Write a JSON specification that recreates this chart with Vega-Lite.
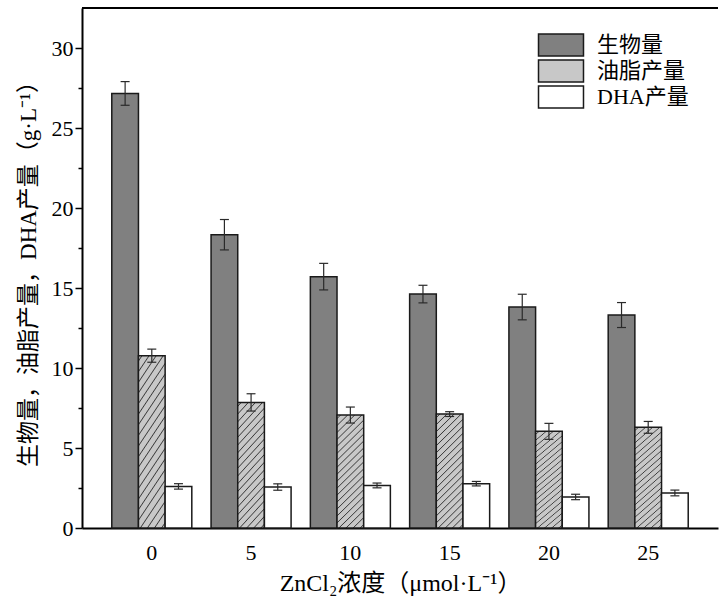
{
  "$schema": "https://vega.github.io/schema/vega-lite/v6.json",
  "width": 636,
  "height": 520,
  "autosize": "none",
  "padding": {"left": 82, "top": 8, "right": 2, "bottom": 71},
  "background": "white",
  "config": {
    "view": {"stroke": null},
    "font": "Liberation Serif, Noto Sans CJK SC",
    "axis": {
      "labelFont": "Liberation Serif, Noto Sans CJK SC",
      "titleFont": "Liberation Serif, Noto Sans CJK SC",
      "labelFontSize": 22,
      "titleFontSize": 23,
      "titleFontWeight": "normal",
      "labelColor": "black",
      "titleColor": "black",
      "domainColor": "black",
      "domainWidth": 2,
      "tickColor": "black",
      "tickWidth": 1.5,
      "grid": false
    },
    "legend": {
      "labelFont": "Liberation Serif, Noto Sans CJK SC",
      "labelFontSize": 22,
      "labelColor": "black"
    }
  },
  "datasets": {
    "main": [
      {"conc": "0", "series": "生物量", "value": 27.16, "sd": 0.74},
      {"conc": "0", "series": "油脂产量", "value": 10.77, "sd": 0.41},
      {"conc": "0", "series": "DHA产量", "value": 2.6, "sd": 0.17},
      {"conc": "5", "series": "生物量", "value": 18.33, "sd": 0.95},
      {"conc": "5", "series": "油脂产量", "value": 7.85, "sd": 0.54},
      {"conc": "5", "series": "DHA产量", "value": 2.56, "sd": 0.2},
      {"conc": "10", "series": "生物量", "value": 15.71, "sd": 0.83},
      {"conc": "10", "series": "油脂产量", "value": 7.06, "sd": 0.5},
      {"conc": "10", "series": "DHA产量", "value": 2.66, "sd": 0.15},
      {"conc": "15", "series": "生物量", "value": 14.62, "sd": 0.55},
      {"conc": "15", "series": "油脂产量", "value": 7.12, "sd": 0.15},
      {"conc": "15", "series": "DHA产量", "value": 2.77, "sd": 0.14},
      {"conc": "20", "series": "生物量", "value": 13.81, "sd": 0.8},
      {"conc": "20", "series": "油脂产量", "value": 6.04, "sd": 0.5},
      {"conc": "20", "series": "DHA产量", "value": 1.94, "sd": 0.17},
      {"conc": "25", "series": "生物量", "value": 13.31, "sd": 0.78},
      {"conc": "25", "series": "油脂产量", "value": 6.29, "sd": 0.37},
      {"conc": "25", "series": "DHA产量", "value": 2.19, "sd": 0.18}
    ]
  },
  "layer": [
    {
      "data": {"name": "main"},
      "mark": {"type": "bar", "strokeWidth": 1.5, "opacity": 1},
      "encoding": {
        "x": {
          "field": "conc", "type": "ordinal", "sort": ["0", "5", "10", "15", "20", "25"],
          "scale": {"paddingInner": 0.194, "paddingOuter": 0.3},
          "axis": {
            "title": "ZnCl₂浓度（μmol·L⁻¹）",
            "titleFontSize": 24,
            "labelAngle": 0,
            "ticks": false,
            "tickSize": 0,
            "labelPadding": 14,
            "titleY": 43,
            "titleBaseline": "top"
          }
        },
        "xOffset": {
          "field": "series", "type": "nominal", "sort": ["生物量", "油脂产量", "DHA产量"],
          "scale": {"paddingInner": 0, "paddingOuter": 0}
        },
        "y": {
          "field": "value", "type": "quantitative",
          "scale": {"domain": [0, 32.5], "nice": false, "zero": true},
          "axis": {
            "title": "生物量，油脂产量，DHA产量（g·L⁻¹）",
            "values": [0, 2.5, 5, 7.5, 10, 12.5, 15, 17.5, 20, 22.5, 25, 27.5, 30],
            "labelExpr": "datum.value % 5 === 0 ? datum.label : ''",
            "tickSize": {"condition": {"test": "datum.value % 5 === 0", "value": 7}, "value": 4},
            "labelPadding": 2,
            "titleAngle": -90,
            "titleX": -47,
            "titleY": 260,
            "titleAlign": "center",
            "titleBaseline": "alphabetic"
          }
        },
        "stroke": {
          "field": "series", "type": "nominal",
          "scale": {"domain": ["生物量", "油脂产量", "DHA产量"], "range": ["#1a1a1a", "#1a1a1a", "#1a1a1a"]},
          "legend": {
            "title": null,
            "orient": "none",
            "legendX": 467,
            "legendY": 25,
            "padding": 0,
            "symbolType": "M-2,-0.978H2V0.978H-2Z",
            "symbolSize": 506,
            "symbolStrokeWidth": 1.5,
            "symbolOpacity": 1,
            "labelOffset": 24,
            "labelLimit": 300,
            "rowPadding": -3
          }
        },
        "fill": {
          "field": "series", "type": "nominal",
          "scale": {"domain": ["生物量", "油脂产量", "DHA产量"], "range": ["#808080", "#c8c8c8", "#ffffff"]},
          "condition": {
            "test": "datum.series === '油脂产量'",
            "value": {
              "gradient": "linear", "x1": 0, "y1": 0, "x2": 0.2712, "y2": 1.169,
              "stops": [
                {"offset": 0, "color": "#c8c8c8"},
                {"offset": 0.0175, "color": "#c8c8c8"}, {"offset": 0.025, "color": "#3c3c3c"}, {"offset": 0.0325, "color": "#c8c8c8"},
                {"offset": 0.0675, "color": "#c8c8c8"}, {"offset": 0.075, "color": "#3c3c3c"}, {"offset": 0.0825, "color": "#c8c8c8"},
                {"offset": 0.1175, "color": "#c8c8c8"}, {"offset": 0.125, "color": "#3c3c3c"}, {"offset": 0.1325, "color": "#c8c8c8"},
                {"offset": 0.1675, "color": "#c8c8c8"}, {"offset": 0.175, "color": "#3c3c3c"}, {"offset": 0.1825, "color": "#c8c8c8"},
                {"offset": 0.2175, "color": "#c8c8c8"}, {"offset": 0.225, "color": "#3c3c3c"}, {"offset": 0.2325, "color": "#c8c8c8"},
                {"offset": 0.2675, "color": "#c8c8c8"}, {"offset": 0.275, "color": "#3c3c3c"}, {"offset": 0.2825, "color": "#c8c8c8"},
                {"offset": 0.3175, "color": "#c8c8c8"}, {"offset": 0.325, "color": "#3c3c3c"}, {"offset": 0.3325, "color": "#c8c8c8"},
                {"offset": 0.3675, "color": "#c8c8c8"}, {"offset": 0.375, "color": "#3c3c3c"}, {"offset": 0.3825, "color": "#c8c8c8"},
                {"offset": 0.4175, "color": "#c8c8c8"}, {"offset": 0.425, "color": "#3c3c3c"}, {"offset": 0.4325, "color": "#c8c8c8"},
                {"offset": 0.4675, "color": "#c8c8c8"}, {"offset": 0.475, "color": "#3c3c3c"}, {"offset": 0.4825, "color": "#c8c8c8"},
                {"offset": 0.5175, "color": "#c8c8c8"}, {"offset": 0.525, "color": "#3c3c3c"}, {"offset": 0.5325, "color": "#c8c8c8"},
                {"offset": 0.5675, "color": "#c8c8c8"}, {"offset": 0.575, "color": "#3c3c3c"}, {"offset": 0.5825, "color": "#c8c8c8"},
                {"offset": 0.6175, "color": "#c8c8c8"}, {"offset": 0.625, "color": "#3c3c3c"}, {"offset": 0.6325, "color": "#c8c8c8"},
                {"offset": 0.6675, "color": "#c8c8c8"}, {"offset": 0.675, "color": "#3c3c3c"}, {"offset": 0.6825, "color": "#c8c8c8"},
                {"offset": 0.7175, "color": "#c8c8c8"}, {"offset": 0.725, "color": "#3c3c3c"}, {"offset": 0.7325, "color": "#c8c8c8"},
                {"offset": 0.7675, "color": "#c8c8c8"}, {"offset": 0.775, "color": "#3c3c3c"}, {"offset": 0.7825, "color": "#c8c8c8"},
                {"offset": 0.8175, "color": "#c8c8c8"}, {"offset": 0.825, "color": "#3c3c3c"}, {"offset": 0.8325, "color": "#c8c8c8"},
                {"offset": 0.8675, "color": "#c8c8c8"}, {"offset": 0.875, "color": "#3c3c3c"}, {"offset": 0.8825, "color": "#c8c8c8"},
                {"offset": 0.9175, "color": "#c8c8c8"}, {"offset": 0.925, "color": "#3c3c3c"}, {"offset": 0.9325, "color": "#c8c8c8"},
                {"offset": 0.9675, "color": "#c8c8c8"}, {"offset": 0.975, "color": "#3c3c3c"}, {"offset": 0.9825, "color": "#c8c8c8"},
                {"offset": 1, "color": "#c8c8c8"}
              ]
            }
          },
          "legend": {
            "title": null,
            "orient": "none",
            "legendX": 467,
            "legendY": 25,
            "padding": 0,
            "symbolType": "M-2,-0.978H2V0.978H-2Z",
            "symbolSize": 506,
            "symbolStrokeWidth": 1.5,
            "symbolOpacity": 1,
            "labelOffset": 24,
            "labelLimit": 300,
            "rowPadding": -3
          }
        }
      }
    },
    {
      "data": {"name": "main"},
      "transform": [
        {"calculate": "datum.value - datum.sd", "as": "lo"},
        {"calculate": "datum.value + datum.sd", "as": "hi"}
      ],
      "encoding": {
        "x": {"field": "conc", "type": "ordinal", "sort": ["0", "5", "10", "15", "20", "25"]},
        "xOffset": {"field": "series", "type": "nominal", "sort": ["生物量", "油脂产量", "DHA产量"]}
      },
      "layer": [
        {
          "mark": {"type": "rule", "color": "#2a2a2a", "strokeWidth": 1.2},
          "encoding": {
            "y": {"field": "lo", "type": "quantitative"},
            "y2": {"field": "hi"}
          }
        },
        {
          "mark": {"type": "tick", "color": "#2a2a2a", "size": 9, "thickness": 1.2, "opacity": 1},
          "encoding": {"y": {"field": "lo", "type": "quantitative"}}
        },
        {
          "mark": {"type": "tick", "color": "#2a2a2a", "size": 9, "thickness": 1.2, "opacity": 1},
          "encoding": {"y": {"field": "hi", "type": "quantitative"}}
        }
      ]
    },
    {
      "data": {"values": [{}]},
      "mark": {"type": "rule", "color": "black", "strokeWidth": 2},
      "encoding": {"y": {"datum": 32.5}}
    }
  ]
}
